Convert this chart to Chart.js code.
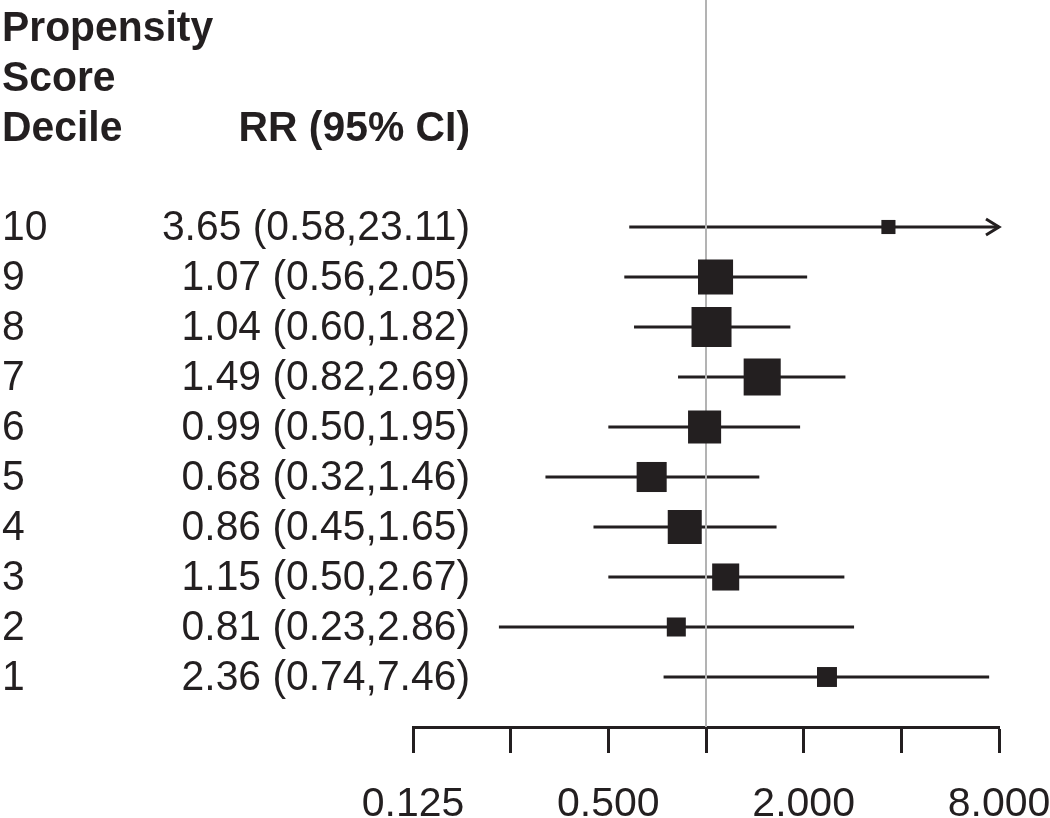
<!DOCTYPE html>
<html lang="en">
<head>
<meta charset="utf-8">
<title>Propensity score decile forest plot</title>
<script src="https://cdn.jsdelivr.net/npm/chart.js@4.4.1/dist/chart.umd.min.js"></script>
<style>
  body { margin: 0; background: #fff; }
  .wrap { position: relative; width: 1050px; height: 818px; }
</style>
</head>
<body>
<div class="wrap"><canvas id="forest"></canvas></div>
<script>
// data (top row first)
const deciles = ['10', '9', '8', '7', '6', '5', '4', '3', '2', '1'];
const rr      = [3.65, 1.07, 1.04, 1.49, 0.99, 0.68, 0.86, 1.15, 0.81, 2.36];
const ciLow   = [0.58, 0.56, 0.60, 0.82, 0.50, 0.32, 0.45, 0.50, 0.23, 0.74];
const ciHigh  = [23.11, 2.05, 1.82, 2.69, 1.95, 1.46, 1.65, 2.67, 2.86, 7.46];
const weights = [2.2, 13.6, 17.7, 15.2, 12.1, 10.0, 12.8, 8.1, 4.0, 4.4]; // % (box area)
const xTicks = [0.125, 0.25, 0.5, 1, 2, 4, 8];
const xTickLabels = ['0.125', '', '0.500', '', '2.000', '', '8.000'];
const headerLines = ['Propensity', 'Score', 'Decile'];
const rrHeader = 'RR (95% CI)';

const INK = '#231f20';
const FONT = "'Liberation Sans', Arial, sans-serif";
const X_MIN = xTicks[0], X_MAX = xTicks[xTicks.length - 1];
const MAX_BOX = 40;
const SX = 0.95; // text in the original is a touch narrow
const maxW = Math.max(...weights);

const rowY = deciles.map(d => Number(d));
const fmt = v => v.toFixed(2);

// one line dataset per confidence interval
const ciSets = deciles.map((d, i) => ({
  type: 'line',
  data: [{ x: Math.max(ciLow[i], X_MIN), y: rowY[i] }, { x: Math.min(ciHigh[i], X_MAX), y: rowY[i] }],
  borderColor: INK,
  borderWidth: 3,
  pointRadius: 0,
  order: 3
}));

const refLine = {
  type: 'line',
  data: [{ x: 1, y: 0 }, { x: 1, y: 20 }],
  borderColor: '#b3b3b3',
  borderWidth: 2,
  pointRadius: 0,
  order: 2
};

const boxes = {
  type: 'scatter',
  data: deciles.map((d, i) => ({ x: rr[i], y: rowY[i] })),
  pointStyle: 'rect',
  pointRadius: weights.map(w => MAX_BOX * Math.sqrt(w / maxW) / Math.SQRT2),
  backgroundColor: INK,
  borderWidth: 0,
  order: 1
};

function text(ctx, t, x, y, align) {
  ctx.save();
  ctx.textAlign = align;
  ctx.scale(SX, 1);
  ctx.fillText(t, x / SX, y);
  ctx.restore();
}

// arrowheads where CI runs off the axis + left-hand text table
const tablePlugin = {
  id: 'table',
  afterDatasetsDraw(chart) {
    const { ctx, scales: { x, y } } = chart;
    ctx.save();
    ctx.strokeStyle = INK;
    ctx.lineWidth = 3;
    deciles.forEach((d, i) => {
      if (ciHigh[i] > X_MAX) {
        const px = x.getPixelForValue(X_MAX), py = y.getPixelForValue(rowY[i]);
        ctx.beginPath();
        ctx.moveTo(px - 13, py - 8);
        ctx.lineTo(px, py);
        ctx.lineTo(px - 13, py + 8);
        ctx.stroke();
      }
    });
    ctx.restore();
  },
  afterDraw(chart) {
    const { ctx, scales: { y } } = chart;
    ctx.save();
    ctx.fillStyle = INK;
    ctx.textBaseline = 'middle';
    ctx.font = 'bold 43px ' + FONT;
    headerLines.forEach((t, i) => {
      text(ctx, t, 2, y.getPixelForValue(deciles.length + 4 - i) + 2, 'left');
    });
    text(ctx, rrHeader, 470, y.getPixelForValue(deciles.length + 2) + 2, 'right');
    ctx.font = '43px ' + FONT;
    deciles.forEach((d, i) => {
      const yy = y.getPixelForValue(rowY[i]) + 1;
      text(ctx, d, 2, yy, 'left');
      text(ctx, fmt(rr[i]) + ' (' + fmt(ciLow[i]) + ',' + fmt(ciHigh[i]) + ')', 470, yy, 'right');
    });
    ctx.restore();
  }
};

const noPad = s => { s.paddingLeft = 0; s.paddingRight = 0; s.paddingTop = 0; s.paddingBottom = 0; };

new Chart(document.getElementById('forest'), {
  data: { datasets: [...ciSets, refLine, boxes] },
  options: {
    responsive: true,
    maintainAspectRatio: false,
    animation: false,
    events: [],
    layout: { autoPadding: false, padding: { left: 413, right: 51, top: 0, bottom: 0 } },
    plugins: { legend: { display: false }, tooltip: { enabled: false } },
    scales: {
      x: {
        type: 'logarithmic',
        min: X_MIN,
        max: X_MAX,
        position: 'bottom',
        afterBuildTicks: s => { s.ticks = xTicks.map(v => ({ value: v })); },
        afterFit: s => { s.height = 91; noPad(s); },
        border: { display: true, color: INK, width: 3 },
        grid: { drawOnChartArea: false, drawTicks: true, tickLength: 26, tickWidth: 3, tickColor: INK },
        ticks: {
          autoSkip: false,
          maxRotation: 0,
          padding: 27,
          color: INK,
          font: { family: FONT, size: 41 },
          callback: (v, i) => xTickLabels[i]
        }
      },
      y: {
        type: 'linear',
        display: false,
        min: 0,
        max: 14.54,
        afterFit: s => { s.width = 0; noPad(s); }
      }
    }
  },
  plugins: [tablePlugin]
});
</script>
</body>
</html>
